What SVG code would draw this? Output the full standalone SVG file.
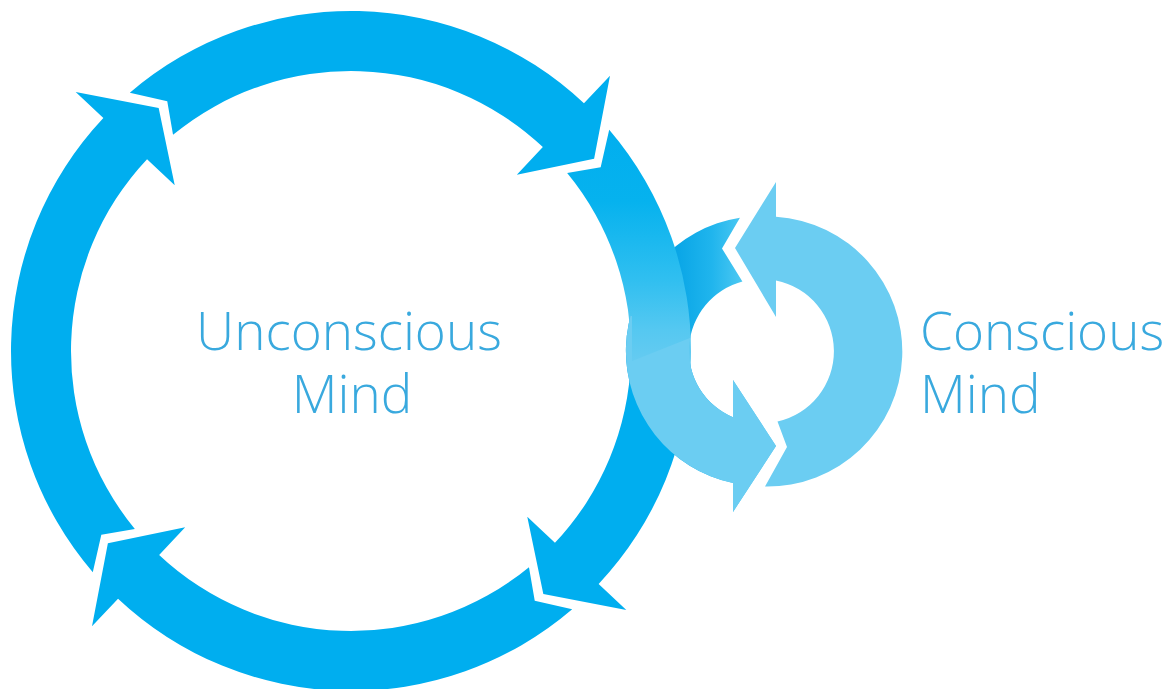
<svg xmlns="http://www.w3.org/2000/svg" width="1173" height="689" viewBox="0 0 1173 689">
  <defs>
    <style>
      .big { fill: #00aeef; }
      .small { fill: #6bcdf2; }
      .label { font-family: "Open Sans", "Liberation Sans", sans-serif; font-weight: 300; font-size: 53px; fill: #39a9de; }
    </style>
    <!-- one quarter of the large cycle: notched tail, ring body, flat head (wings on local angle 0) -->
    <path id="bigArrow" d="M36.52,-338.03 A340,340 0 0 1 340,0 L378,0 L306.67,45.29 L242,0 L280,0 A280,280 0 0 0 35.5,-277.74 L55.96,-304.91 Z"/>
    <!-- lower half of the small cycle (tail at top, head pointing right at bottom) -->
    <path id="smallLower" d="M739.95,217.65 A135,135 0 0 0 733,483.1 L733,512 L776,446 L733,380 L733,417.3 A72,72 0 0 1 742.4,281.4 L722,248.5 Z"/>
    <!-- right quarter of the large cycle brightens where it meets the small cycle -->
    <linearGradient id="bigRightFill" gradientUnits="userSpaceOnUse" x1="0" y1="120" x2="0" y2="400" gradientTransform="rotate(-43.25) translate(-351 -351)">
      <stop offset="0" stop-color="#00aeef"/>
      <stop offset="0.29" stop-color="#06b2ee"/>
      <stop offset="0.57" stop-color="#30bff0"/>
      <stop offset="0.75" stop-color="#55c8f1"/>
      <stop offset="0.87" stop-color="#66cbf1"/>
      <stop offset="0.925" stop-color="#14b3ec"/>
      <stop offset="0.96" stop-color="#00aeef"/>
      <stop offset="1" stop-color="#00aeef"/>
    </linearGradient>
    <!-- small cycle tail darkens as it passes under the large cycle -->
    <linearGradient id="smallTailFill" gradientUnits="userSpaceOnUse" x1="675" y1="0" x2="742" y2="0">
      <stop offset="0" stop-color="#08a5e6"/>
      <stop offset="0.55" stop-color="#20b5ed"/>
      <stop offset="1" stop-color="#4cc8f2"/>
    </linearGradient>
    <!-- where the small cycle passes in front of the large one -->
    <clipPath id="frontPart">
      <polygon points="0,689 0,316 632,316 632,361 700,334 1173,334 1173,689"/>
    </clipPath>
  </defs>

  <rect width="1173" height="689" fill="#ffffff"/>

  <!-- small cycle, rear pass (under the large cycle) -->
  <g id="conscious-cycle-back">
    <use href="#smallLower" fill="url(#smallTailFill)"/>
  </g>

  <!-- large cycle: four clockwise arrows -->
  <g id="unconscious-cycle">
    <use id="big-top" href="#bigArrow" class="big" transform="translate(351 351) rotate(-46.75)"/>
    <use id="big-right" href="#bigArrow" fill="url(#bigRightFill)" transform="translate(351 351) rotate(43.25)"/>
    <use id="big-bottom" href="#bigArrow" class="big" transform="translate(351 351) rotate(133.25)"/>
    <use id="big-left" href="#bigArrow" class="big" transform="translate(351 351) rotate(-136.75)"/>
  </g>

  <!-- small cycle: two anticlockwise arrows, front pass over the large cycle -->
  <g id="conscious-cycle">
    <use id="small-bottom" href="#smallLower" class="small" clip-path="url(#frontPart)"/>
    <path id="small-top" class="small" d="M765,486.5 A135,135 0 0 0 776,216.8 L776,182 L735,248 L776,317 L776,280.6 A72,72 0 0 1 777.5,421.5 L787,447 Z"/>
  </g>

  <g id="label-unconscious">
    <text class="label" text-anchor="middle"><tspan x="349" y="350">Unconscious</tspan><tspan x="352" y="413">Mind</tspan></text>
  </g>
  <g id="label-conscious">
    <text class="label"><tspan x="920" y="350">Conscious</tspan><tspan x="920" y="413">Mind</tspan></text>
  </g>
</svg>
